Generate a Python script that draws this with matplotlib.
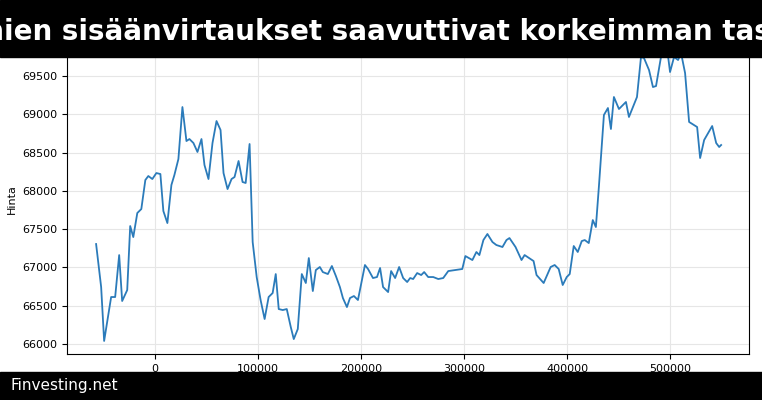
import matplotlib.pyplot as plt
from matplotlib.patches import Rectangle

# Arvot luettu kuvasta (x-indeksi, hinta)
x_vals = [-57200, -52300, -49400, -42600, -38700, -34800, -31900, -27000, -24100, -21100,
          -17200, -13300, -9400, -6500, -2600, 1300, 5200, 8100, 12000, 15900,
          18800, 22700, 26600, 30500, 33400, 37300, 41200, 45100, 48000, 51900,
          55800, 59700, 63600, 66500, 70400, 74300, 77200, 81100, 85000, 88000,
          91800, 94800, 98700, 102500, 106400, 110300, 114200, 117200, 120100, 124000,
          127900, 131800, 134700, 138600, 142500, 146400, 149300, 153200, 156100, 160000,
          162900, 167800, 171700, 175600, 179500, 182400, 186300, 189300, 193100, 197000,
          203800, 206800, 211600, 215500, 218500, 221400, 226300, 229200, 233100, 237000,
          240900, 244800, 247700, 250600, 254500, 258400, 261300, 265200, 270100, 275000,
          279800, 284700, 291500, 298300, 301300, 308100, 312000, 314900, 318800, 322700,
          327600, 331400, 337300, 341200, 344100, 350000, 355800, 358800, 367500, 370400,
          377300, 384100, 388000, 391900, 395800, 399700, 402600, 406500, 410400, 414300,
          417200, 421100, 425000, 428000, 430900, 435800, 439700, 442600, 445500, 450400,
          457200, 460100, 467900, 471800, 474700, 479600, 483400, 486400, 491200, 496100,
          500000, 503900, 507800, 510700, 514600, 518500, 526300, 529200, 533100, 540900,
          544800, 547700, 549600]
prices = [67306, 66744, 66040, 66614, 66614, 67162, 66562, 66705, 67541, 67397,
          67711, 67763, 68142, 68194, 68155, 68233, 68220, 67737, 67580, 68077,
          68207, 68416, 69095, 68651, 68677, 68625, 68508, 68677, 68338, 68155,
          68625, 68912, 68795, 68233, 68024, 68155, 68181, 68390, 68116, 68103,
          68612, 67332, 66875, 66575, 66327, 66614, 66666, 66914, 66457, 66444,
          66457, 66222, 66065, 66196, 66914, 66797, 67123, 66692, 66966, 67006,
          66940, 66914, 67019, 66888, 66744, 66601, 66483, 66601, 66627, 66575,
          67032, 66980, 66862, 66875, 66993, 66744, 66679, 66953, 66862, 67006,
          66862, 66810, 66862, 66849, 66927, 66901, 66940, 66875, 66875, 66849,
          66862, 66953, 66966, 66980, 67149, 67097, 67202, 67162, 67358, 67437,
          67332, 67293, 67267, 67358, 67384, 67267, 67097, 67162, 67084, 66901,
          66797, 67006, 67032, 66980, 66771, 66875, 66914, 67280, 67202, 67345,
          67358, 67319, 67619, 67528, 68050, 68991, 69082, 68808, 69226, 69069,
          69161, 68965, 69226, 69748, 69735, 69578, 69356, 69369, 69748, 69970,
          69552, 69748, 69709, 69800, 69539, 68900, 68834, 68429, 68664, 68847,
          68625, 68573, 68599]

# otsikko on alkuperäisessä leikattu molemmista reunoista
title = "Bitcoinien sisäänvirtaukset saavuttivat korkeimman tasonsa"
footer = "Finvesting.net"

fig = plt.figure(figsize=(7.62, 4.0), dpi=100)
ax = fig.add_axes([0.088, 0.115, 0.895, 0.7725])
ax.plot(x_vals, prices, color="#2b7bba", linewidth=1.3)
ax.set_xlim(-85400, 576700)
ax.set_ylim(65870, 69905)
ax.set_yticks(range(66000, 70000, 500))
ax.set_xticks([0, 100000, 200000, 300000, 400000, 500000])
ax.grid(True, color="#e6e6e6", linewidth=0.8)
ax.tick_params(labelsize=8)
ax.set_ylabel("Hinta", fontsize=8)

# otsikkopalkki ja alapalkki
fig.patches.append(Rectangle((0, 0.8575), 1, 0.1425, transform=fig.transFigure,
                             color="black", zorder=5))
fig.patches.append(Rectangle((0, 0), 1, 0.07, transform=fig.transFigure,
                             color="black", zorder=5))
fig.text(0.485, 0.92, title, color="white", fontsize=20, fontweight="bold",
         ha="center", va="center", zorder=6)
fig.text(0.014, 0.036, footer, color="white", fontsize=11, ha="left",
         va="center", zorder=6)

fig.savefig("out.png", dpi=100)
